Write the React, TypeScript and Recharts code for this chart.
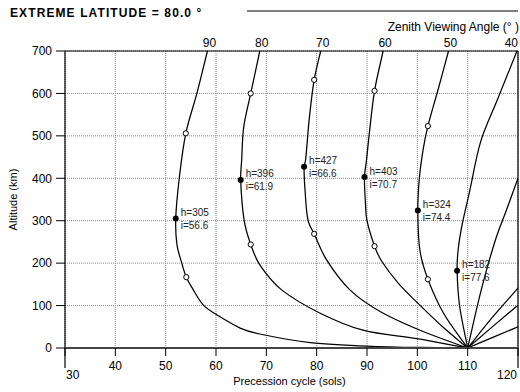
import { ComposedChart, Line, Scatter, XAxis, YAxis, CartesianGrid, ReferenceLine, Label } from 'recharts'

const FONT = '"Liberation Sans", Arial, Helvetica, sans-serif'

// zenith viewing angle of each labelled curve
const zenithAngles = [90, 80, 70, 60, 50, 40]

// [precession sols, altitude km], read top to bottom
const curve90 = [[58.3, 700], [56.2, 600], [54.0, 506], [52.7, 400], [52.0, 305], [52.25, 243], [53.2, 200], [54.1, 167], [55.3, 141], [57.5, 101], [60.2, 78], [64.8, 47], [68.7, 33], [78.7, 12.5], [89.9, 4.7], [100.5, 1.2], [110, 0]]
const curve80 = [[68.7, 700], [66.9, 600], [65.5, 520], [65.1, 443], [64.9, 396], [65.6, 300], [66.9, 244], [68.7, 196], [73.05, 137], [80.7, 82], [89.2, 42], [99.9, 22], [110, 0]]
const curve70 = [[80.8, 700], [79.5, 632], [78.5, 537], [77.8, 443], [77.5, 427], [77.7, 370], [78.3, 300], [79.5, 269], [82.0, 207], [86.6, 137], [92.6, 86], [100.9, 40], [110, 0]]
const curve60 = [[93.2, 700], [91.5, 606], [90.5, 510], [89.9, 443], [89.5, 402], [89.7, 340], [90.0, 300], [91.5, 240], [92.9, 205], [96.2, 153], [100.5, 101], [105.3, 47], [110, 0]]
const curve50 = [[106.2, 700], [104.1, 608], [102.1, 523], [101.2, 471], [100.4, 400], [100.1, 324], [100.5, 231], [102.1, 162], [105.3, 80], [110, 0]]
const curve40 = [[119.8, 700], [115.9, 585], [112.6, 487], [110.4, 370], [108.8, 285], [108.1, 231], [107.9, 182], [108.4, 99], [110, 0]]
// unlabelled curves leaving through the right edge
const fanA = [[120, 400], [117.8, 328], [115.5, 254], [112.7, 137], [110, 0]]
const fanB = [[120, 141], [114.9, 72], [110, 0]]
const fanC = [[120, 101], [115.0, 51], [110, 0]]
const fanD = [[120, 50], [115.0, 25], [110, 0]]

const labelledCurves = [curve90, curve80, curve70, curve60, curve50, curve40]
const allCurves = [...labelledCurves, fanA, fanB, fanC, fanD]

// peak points (h = altitude, i = inclination)
const peakSols = [52.0, 64.9, 77.5, 89.5, 100.1, 107.9]
const peakAlt = [305, 396, 427, 403, 324, 182]
const peakIncl = [56.6, 61.9, 66.6, 70.7, 74.4, 77.6]

// open circles
const ringSols = [54.0, 54.1, 66.9, 66.9, 79.5, 79.5, 91.5, 91.5, 102.1, 102.1]
const ringAlt = [506, 167, 600, 244, 632, 269, 606, 240, 523, 162]

const xTicks = [30, 40, 50, 60, 70, 80, 90, 100, 110, 120]
const yTicks = [0, 100, 200, 300, 400, 500, 600, 700]

const curveData = allCurves.map(c => c.map(([x, y]) => ({ x, y })))
const peakData = peakSols.map((x, i) => ({ x, y: peakAlt[i], h: peakAlt[i], inc: peakIncl[i] }))
const ringData = ringSols.map((x, i) => ({ x, y: ringAlt[i] }))
const topData = labelledCurves.map((c, i) => ({ x: c[0][0], y: c[0][1], z: zenithAngles[i], last: i === labelledCurves.length - 1 }))

// smooth curve through every point (chord-weighted Catmull-Rom), usable as a Line type
function smoothCurve(context: any) {
  let pts: number[][] = []
  return {
    areaStart() {},
    areaEnd() {},
    lineStart() { pts = [] },
    point(x: number, y: number) { pts.push([+x, +y]) },
    lineEnd() {
      const n = pts.length
      if (!n) return
      context.moveTo(pts[0][0], pts[0][1])
      const dist = (a: number[], b: number[]) => Math.hypot(b[0] - a[0], b[1] - a[1])
      for (let i = 0; i < n - 1; i++) {
        const p0 = pts[i - 1] || pts[i]
        const p1 = pts[i]
        const p2 = pts[i + 1]
        const p3 = pts[i + 2] || p2
        const d1 = dist(p0, p1)
        const d2 = dist(p1, p2)
        const d3 = dist(p2, p3)
        const k1 = d1 + d2 > 0 ? d2 / (3 * (d1 + d2)) : 0
        const k2 = d2 + d3 > 0 ? d2 / (3 * (d2 + d3)) : 0
        context.bezierCurveTo(
          p1[0] + (p2[0] - p0[0]) * k1, p1[1] + (p2[1] - p0[1]) * k1,
          p2[0] - (p3[0] - p1[0]) * k2, p2[1] - (p3[1] - p1[1]) * k2,
          p2[0], p2[1])
      }
    },
  }
}

function BottomTick({ x, y, payload }: any) {
  const v = payload.value
  const axisY = y - 10
  const edge = v === xTicks[0] || v === xTicks[xTicks.length - 1]
  if (edge) {
    const first = v === xTicks[0]
    return (
      <g>
        <line x1={x} x2={x} y1={axisY} y2={axisY + 20} stroke="#000" strokeWidth={1.2} />
        <text x={first ? x + 1 : x - 1} y={axisY + 27} dy="0.35em" textAnchor={first ? 'start' : 'end'}
          fontSize={12} fontFamily={FONT} fill="#000">{v}</text>
      </g>
    )
  }
  return (
    <text x={x} y={axisY + 18} dy="0.35em" textAnchor="middle" fontSize={12} fontFamily={FONT} fill="#000">{v}</text>
  )
}

function ZenithLabel({ cx, cy, payload }: any) {
  return (
    <text x={payload.last ? cx + 1 : cx + 2} y={cy - 8} dy="0.35em" textAnchor={payload.last ? 'end' : 'middle'}
      fontSize={12} fontFamily={FONT} fill="#000">{payload.z}</text>
  )
}

function PeakDot({ cx, cy, payload }: any) {
  return (
    <g>
      <circle cx={cx} cy={cy} r={3} fill="#000" />
      <text x={cx + 5} y={cy - 6} dy="0.35em" fontSize={10} fontFamily={FONT} fill="#222">h={payload.h}</text>
      <text x={cx + 5} y={cy + 7} dy="0.35em" fontSize={10} fontFamily={FONT} fill="#222">i={payload.inc.toFixed(1)}</text>
    </g>
  )
}

function Ring({ cx, cy }: any) {
  return <circle cx={cx} cy={cy} r={2.6} fill="#fff" stroke="#000" strokeWidth={1} />
}

export default function App() {
  return (
    <div style={{ position: 'absolute', left: 0, top: 0, width: 520, height: 392, background: '#fff' }}>
      <ComposedChart width={520} height={392} margin={{ top: 0, right: 2, bottom: 0, left: 0 }}>
        <CartesianGrid stroke="#888" strokeDasharray="1 1" />
        <XAxis dataKey="x" type="number" domain={[30, 120]} ticks={xTicks} allowDataOverflow height={44}
          tick={<BottomTick />} tickSize={8} tickMargin={2} interval={0}
          axisLine={{ stroke: '#444', strokeWidth: 2 }} tickLine={{ stroke: '#000' }}>
          <Label content={({ viewBox }: any) => (
            <text x={viewBox.x + viewBox.width / 2 - 2} y={381} dy="0.35em" textAnchor="middle"
              fontSize={11} fontFamily={FONT} fill="#000">Precession cycle (sols)</text>
          )} />
        </XAxis>
        <XAxis xAxisId="top" orientation="top" type="number" domain={[30, 120]} allowDataOverflow
          height={51} tick={false} tickLine={false} axisLine={{ stroke: '#000', strokeWidth: 1.2 }}>
          <Label content={() => (
            <g>
              <text x={10} y={13} dy="0.35em" fontSize={12} fontWeight="bold" letterSpacing={1.1}
                fontFamily={FONT} fill="#000">EXTREME LATITUDE = 80.0 °</text>
              <line x1={247} x2={518} y1={11} y2={11} stroke="#555" strokeWidth={1.5} />
              <text x={519} y={27} dy="0.35em" textAnchor="end" fontSize={12} fontFamily={FONT}
                fill="#000">Zenith Viewing Angle (° )</text>
            </g>
          )} />
        </XAxis>
        <YAxis dataKey="y" type="number" domain={[0, 700]} ticks={yTicks} width={65} interval={0}
          tickSize={9} tickMargin={4} tick={{ fontSize: 12, fontFamily: FONT, fill: '#000' }}
          axisLine={{ stroke: '#000', strokeWidth: 1.2 }} tickLine={{ stroke: '#000' }}>
          <Label content={({ viewBox }: any) => (
            <text transform={`translate(13, ${viewBox.y + viewBox.height / 2}) rotate(-90)`} dy="0.35em"
              textAnchor="middle" fontSize={11} fontFamily={FONT} fill="#000">Altitude (km)</text>
          )} />
        </YAxis>
        <ReferenceLine x={120} stroke="#000" strokeWidth={1.2} />
        {curveData.map((d, k) => (
          <Line key={k} data={d} dataKey="y" type={smoothCurve as any} stroke="#000" strokeWidth={1.25}
            dot={false} activeDot={false} isAnimationActive={false} />
        ))}
        <Scatter data={ringData} dataKey="y" shape={<Ring />} isAnimationActive={false} />
        <Scatter data={peakData} dataKey="y" shape={<PeakDot />} isAnimationActive={false} />
        <Scatter data={topData} dataKey="y" shape={<ZenithLabel />} isAnimationActive={false} />
      </ComposedChart>
    </div>
  )
}
